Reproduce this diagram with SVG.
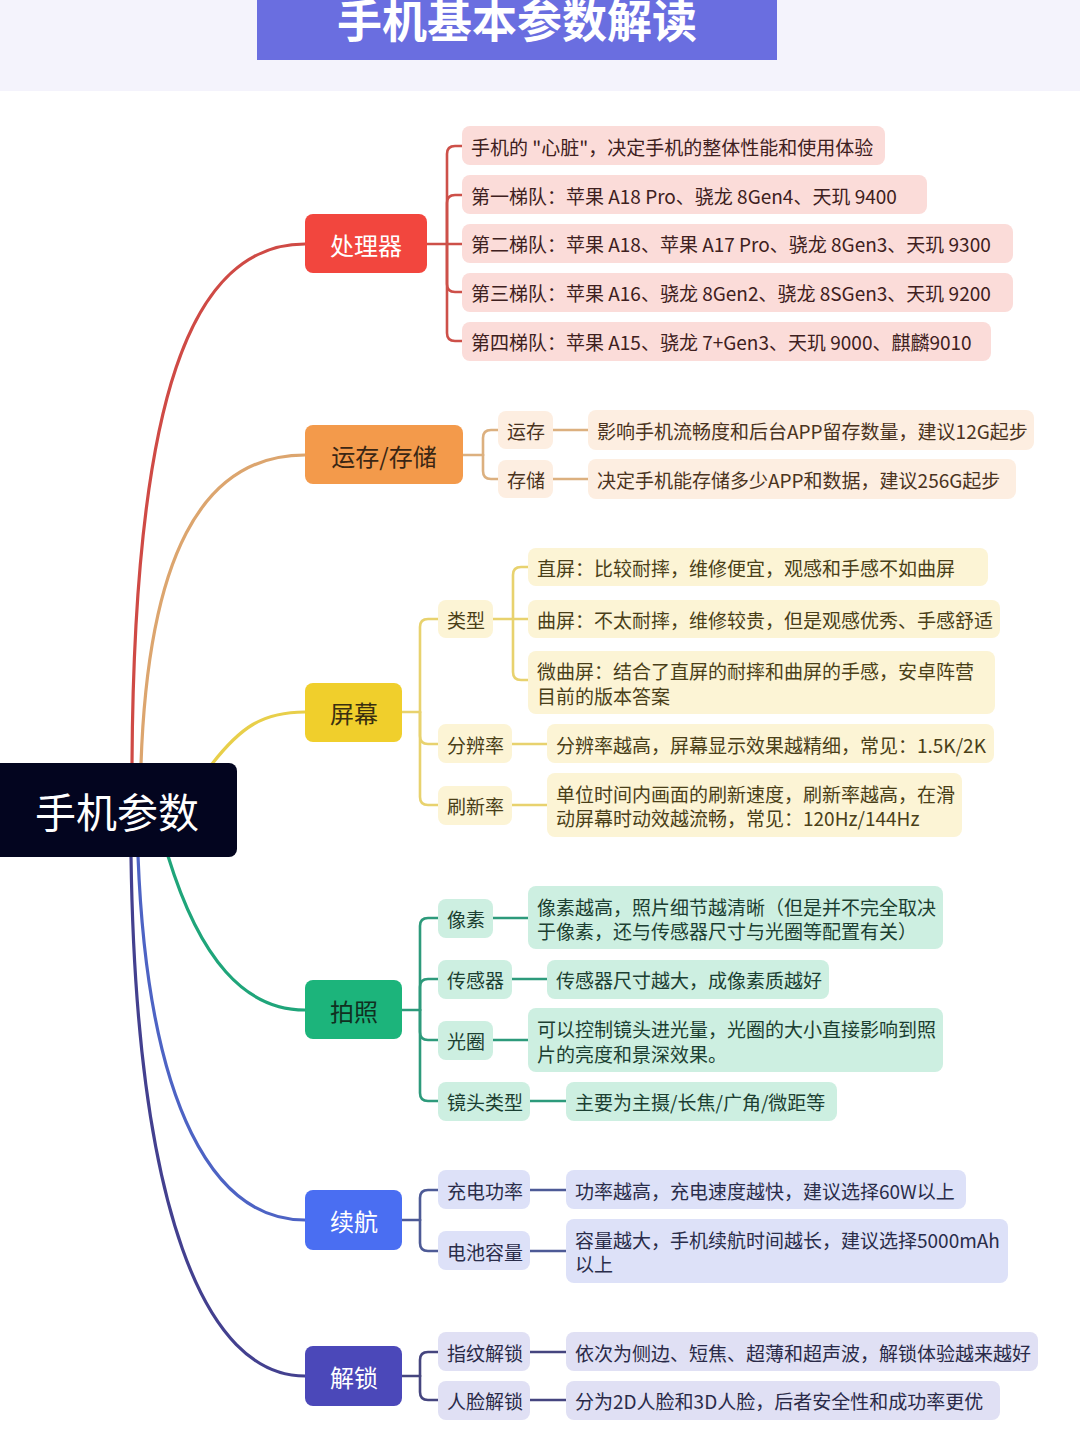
<svg xmlns="http://www.w3.org/2000/svg" width="1080" height="1440" viewBox="0 0 1080 1440">
<style>
text{font-family:"Noto Sans CJK SC","Noto Sans",sans-serif;dominant-baseline:central}
.t{font-size:19px}
.l1{font-size:24px;text-anchor:middle}
.cv{fill:none;stroke-width:3.2;stroke-linecap:round}
.br{fill:none;stroke-width:2.6;stroke-linecap:round;stroke-linejoin:round}
.red .b{fill:#fbdcd9}.red text.t{fill:#3e2020}
.org .b{fill:#fdeee1}.org text.t{fill:#4a3320}
.yel .b{fill:#fcf4d5}.yel text.t{fill:#4a3f18}
.grn .b{fill:#cdefe1}.grn text.t{fill:#1c3f32}
.blu .b{fill:#dde1f8}.blu text.t{fill:#2a2d4a}
.ind .b{fill:#e0e0f4}.ind text.t{fill:#2a2a48}
</style>
<rect x="0" y="0" width="1080" height="1440" fill="#ffffff"/>
<g id="header">
<rect x="0" y="0" width="1080" height="91" fill="#f4f3fc"/>
<rect x="257" y="0" width="520" height="60" fill="#6a6ee0"/>
<text x="517" y="18" font-size="45" font-weight="700" fill="#ffffff" text-anchor="middle">手机基本参数解读</text>
</g>
<g id="connectors">
<path class="cv" stroke="#cf4a45" d="M132,764 C134,400 190,244 305,244"/>
<path class="cv" stroke="#dca56e" d="M141,764 C148,560 200,455 305,455"/>
<path class="cv" stroke="#e8cf4a" d="M212,764 C240,728 262,712 305,712"/>
<path class="cv" stroke="#1fa57a" d="M168,856 C200,960 245,1010 305,1010"/>
<path class="cv" stroke="#4d63c4" d="M138,856 C148,1110 215,1220 305,1220"/>
<path class="cv" stroke="#43408f" d="M131,856 C136,1210 205,1376 305,1376"/>
<g stroke="#cd5049" class="br">
<path d="M427,244 H447"/>
<path d="M447,244 V154 Q447,146 455,146 H462"/>
<path d="M447,244 V203 Q447,195 455,195 H462"/>
<path d="M447,244 H462"/>
<path d="M447,244 V284 Q447,292 455,292 H462"/>
<path d="M447,244 V333 Q447,341 455,341 H462"/>
</g>
<g stroke="#dcb07f" class="br">
<path d="M463,455 H483"/>
<path d="M483,455 V438 Q483,430 491,430 H498"/>
<path d="M483,455 V471 Q483,479 491,479 H498"/>
<path d="M553,430 H588"/>
<path d="M553,479 H588"/>
</g>
<g stroke="#e8d26e" class="br">
<path d="M402,712 H420"/>
<path d="M420,712 V627 Q420,619 428,619 H438"/>
<path d="M420,712 V736 Q420,744 428,744 H438"/>
<path d="M420,712 V797 Q420,805 428,805 H438"/>
<path d="M493,619 H513"/>
<path d="M513,619 V575 Q513,567 521,567 H528"/>
<path d="M513,619 H528"/>
<path d="M513,619 V672 Q513,680 521,680 H528"/>
<path d="M512,744 H547"/>
<path d="M512,805 H547"/>
</g>
<g stroke="#2d9a7b" class="br">
<path d="M402,1010 H420"/>
<path d="M420,1010 V926 Q420,918 428,918 H438"/>
<path d="M420,1010 V987 Q420,979 428,979 H438"/>
<path d="M420,1010 V1032 Q420,1040 428,1040 H438"/>
<path d="M420,1010 V1093 Q420,1101 428,1101 H438"/>
<path d="M493,918 H528"/>
<path d="M512,979 H547"/>
<path d="M493,1040 H528"/>
<path d="M530,1101 H566"/>
</g>
<g stroke="#4d5a96" class="br">
<path d="M402,1220 H420"/>
<path d="M420,1220 V1198 Q420,1190 428,1190 H438"/>
<path d="M420,1220 V1243 Q420,1251 428,1251 H438"/>
<path d="M530,1190 H566"/>
<path d="M530,1251 H566"/>
</g>
<g stroke="#45457f" class="br">
<path d="M402,1376 H420"/>
<path d="M420,1376 V1360 Q420,1352 428,1352 H438"/>
<path d="M420,1376 V1392 Q420,1400 428,1400 H438"/>
<path d="M530,1352 H566"/>
<path d="M530,1400 H566"/>
</g>
</g>
<g id="root">
<rect x="-8" y="763" width="245" height="94" rx="8" fill="#03051f"/>
<text x="117" y="810" font-size="41" fill="#ffffff" text-anchor="middle">手机参数</text>
</g>
<g id="processor" class="red">
<rect x="305" y="214" width="122" height="59" rx="8" fill="#f2463e"/>
<text class="l1" x="366" y="244" fill="#ffffff">处理器</text>
<g id="cpu-1"><rect class="b" x="462" y="126" width="423" height="39" rx="8"/><text class="t" x="471" y="146">手机的 "心脏"，决定手机的整体性能和使用体验</text></g>
<g id="cpu-2"><rect class="b" x="462" y="175" width="465" height="39" rx="8"/><text class="t" x="471" y="195">第一梯队：苹果 A18 Pro、骁龙 8Gen4、天玑 9400</text></g>
<g id="cpu-3"><rect class="b" x="462" y="224" width="551" height="39" rx="8"/><text class="t" x="471" y="243">第二梯队：苹果 A18、苹果 A17 Pro、骁龙 8Gen3、天玑 9300</text></g>
<g id="cpu-4"><rect class="b" x="462" y="273" width="551" height="39" rx="8"/><text class="t" x="471" y="292">第三梯队：苹果 A16、骁龙 8Gen2、骁龙 8SGen3、天玑 9200</text></g>
<g id="cpu-5"><rect class="b" x="462" y="322" width="529" height="39" rx="8"/><text class="t" x="471" y="341">第四梯队：苹果 A15、骁龙 7+Gen3、天玑 9000、麒麟9010</text></g>
</g>
<g id="memory" class="org">
<rect x="305" y="425" width="158" height="59" rx="8" fill="#f39a4b"/>
<text class="l1" x="384" y="455" fill="#3a2614">运存/存储</text>
<g id="ram"><rect class="b" x="498" y="411" width="55" height="38" rx="8"/><text class="t" x="507" y="430">运存</text></g>
<g id="rom"><rect class="b" x="498" y="460" width="55" height="38" rx="8"/><text class="t" x="507" y="479">存储</text></g>
<g id="ram-d"><rect class="b" x="588" y="410" width="446" height="40" rx="8"/><text class="t" x="597" y="430">影响手机流畅度和后台APP留存数量，建议12G起步</text></g>
<g id="rom-d"><rect class="b" x="588" y="459" width="428" height="40" rx="8"/><text class="t" x="597" y="479">决定手机能存储多少APP和数据，建议256G起步</text></g>
</g>
<g id="screen" class="yel">
<rect x="305" y="683" width="97" height="59" rx="8" fill="#f0cf2c"/>
<text class="l1" x="354" y="712" fill="#3a3010">屏幕</text>
<g id="type"><rect class="b" x="438" y="600" width="55" height="38" rx="8"/><text class="t" x="447" y="619">类型</text></g>
<g id="res"><rect class="b" x="438" y="724" width="74" height="39" rx="8"/><text class="t" x="447" y="744">分辨率</text></g>
<g id="hz"><rect class="b" x="438" y="786" width="74" height="39" rx="8"/><text class="t" x="447" y="805">刷新率</text></g>
<g id="flat"><rect class="b" x="528" y="548" width="460" height="38" rx="8"/><text class="t" x="537" y="567">直屏：比较耐摔，维修便宜，观感和手感不如曲屏</text></g>
<g id="curved"><rect class="b" x="528" y="600" width="472" height="38" rx="8"/><text class="t" x="537" y="619">曲屏：不太耐摔，维修较贵，但是观感优秀、手感舒适</text></g>
<g id="micro"><rect class="b" x="528" y="651" width="467" height="63" rx="8"/><text class="t" x="537" y="670">微曲屏：结合了直屏的耐摔和曲屏的手感，安卓阵营<tspan x="537" dy="25">目前的版本答案</tspan></text></g>
<g id="res-d"><rect class="b" x="547" y="724" width="447" height="39" rx="8"/><text class="t" x="556" y="744">分辨率越高，屏幕显示效果越精细，常见：1.5K/2K</text></g>
<g id="hz-d"><rect class="b" x="547" y="773" width="415" height="64" rx="8"/><text class="t" x="556" y="793">单位时间内画面的刷新速度，刷新率越高，在滑<tspan x="556" dy="24">动屏幕时动效越流畅，常见：120Hz/144Hz</tspan></text></g>
</g>
<g id="camera" class="grn">
<rect x="305" y="980" width="97" height="59" rx="8" fill="#1cb47b"/>
<text class="l1" x="354" y="1010" fill="#10301f">拍照</text>
<g id="px"><rect class="b" x="438" y="899" width="55" height="39" rx="8"/><text class="t" x="447" y="918">像素</text></g>
<g id="sensor"><rect class="b" x="438" y="960" width="74" height="39" rx="8"/><text class="t" x="447" y="979">传感器</text></g>
<g id="aperture"><rect class="b" x="438" y="1021" width="55" height="39" rx="8"/><text class="t" x="447" y="1040">光圈</text></g>
<g id="lens"><rect class="b" x="438" y="1082" width="92" height="39" rx="8"/><text class="t" x="447" y="1101">镜头类型</text></g>
<g id="px-d"><rect class="b" x="528" y="886" width="415" height="63" rx="8"/><text class="t" x="537" y="906">像素越高，照片细节越清晰（但是并不完全取决<tspan x="537" dy="24">于像素，还与传感器尺寸与光圈等配置有关）</tspan></text></g>
<g id="sensor-d"><rect class="b" x="547" y="960" width="282" height="39" rx="8"/><text class="t" x="556" y="979">传感器尺寸越大，成像素质越好</text></g>
<g id="aperture-d"><rect class="b" x="528" y="1008" width="415" height="64" rx="8"/><text class="t" x="537" y="1028">可以控制镜头进光量，光圈的大小直接影响到照<tspan x="537" dy="25">片的亮度和景深效果。</tspan></text></g>
<g id="lens-d"><rect class="b" x="566" y="1082" width="271" height="39" rx="8"/><text class="t" x="575" y="1101">主要为主摄/长焦/广角/微距等</text></g>
</g>
<g id="battery" class="blu">
<rect x="305" y="1190" width="97" height="60" rx="8" fill="#4a6ef2"/>
<text class="l1" x="354" y="1220" fill="#ffffff">续航</text>
<g id="charge"><rect class="b" x="438" y="1170" width="92" height="39" rx="8"/><text class="t" x="447" y="1190">充电功率</text></g>
<g id="cap"><rect class="b" x="438" y="1231" width="92" height="39" rx="8"/><text class="t" x="447" y="1251">电池容量</text></g>
<g id="charge-d"><rect class="b" x="566" y="1170" width="400" height="39" rx="8"/><text class="t" x="575" y="1190">功率越高，充电速度越快，建议选择60W以上</text></g>
<g id="cap-d"><rect class="b" x="566" y="1219" width="442" height="64" rx="8"/><text class="t" x="575" y="1239">容量越大，手机续航时间越长，建议选择5000mAh<tspan x="575" dy="24">以上</tspan></text></g>
</g>
<g id="unlock" class="ind">
<rect x="305" y="1346" width="97" height="60" rx="8" fill="#4b48b9"/>
<text class="l1" x="354" y="1376" fill="#ffffff">解锁</text>
<g id="finger"><rect class="b" x="438" y="1332" width="92" height="39" rx="8"/><text class="t" x="447" y="1352">指纹解锁</text></g>
<g id="face"><rect class="b" x="438" y="1381" width="92" height="39" rx="8"/><text class="t" x="447" y="1400">人脸解锁</text></g>
<g id="finger-d"><rect class="b" x="566" y="1332" width="472" height="39" rx="8"/><text class="t" x="575" y="1352">依次为侧边、短焦、超薄和超声波，解锁体验越来越好</text></g>
<g id="face-d"><rect class="b" x="566" y="1381" width="434" height="39" rx="8"/><text class="t" x="575" y="1400">分为2D人脸和3D人脸，后者安全性和成功率更优</text></g>
</g>
</svg>
